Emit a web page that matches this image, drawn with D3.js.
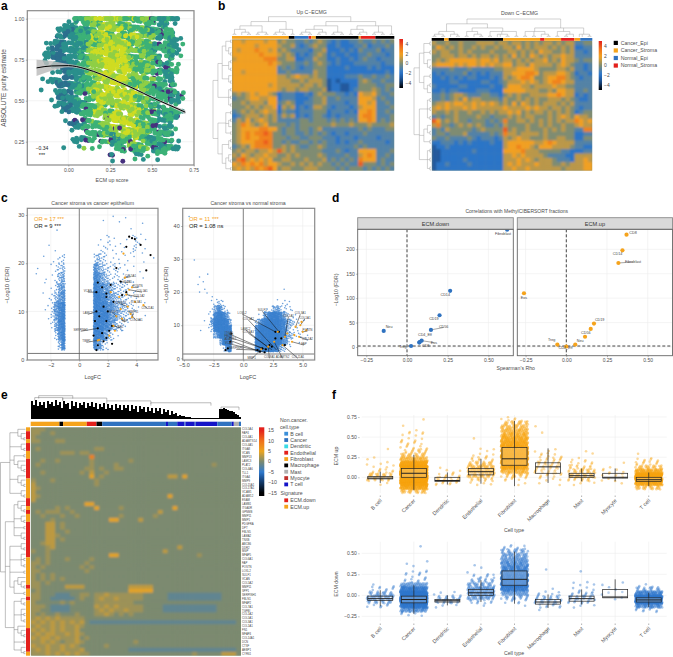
<!DOCTYPE html>
<html><head><meta charset="utf-8">
<script src="https://cdnjs.cloudflare.com/ajax/libs/d3/7.8.5/d3.min.js"></script>
<style>html,body{margin:0;background:#fff}svg{display:block}text{font-family:"Liberation Sans",Arial,sans-serif}</style>
</head><body><svg id="c" width="673" height="657"></svg>
<script>
const aRows=[
"......tgglyylylgyglpgtgtt.","....tttgglglylglgglgptgt..","...ttbtgtglyglygylgtgpgt..","..ttbttgggylyllyglgltpgtt.",
"..tbtttgtlglylylglggpggtg.",".ttbbtttglyyylylgglgtpgtg.",".t.tbttggllyylyyglglgpgt..","..ttbbttglllyylylgglgtpgg.",
".tt.tbttgllyylyyllglgptg..","..ttbbttgglylyylgglgpgtp..",".t.ttbtgglylylylyglgtgpgg.","...tbttgpglylyylyglggpgtp.",
"...ttbttgglyllyylglgtgptg.","....tbttpgylgylylyglgpggt.","....t.tpgglplyylylggptgtp.",".....tbtgpgllylyyglgptgt..",
"......t.pggglplylylgpgtg..","......ttpgpgltlgylgtgpgt..",".....t..lg.gptgplglgptgtt.",".......t..g.tpgpgtgptgt...","............t..p.gt.t....."];
const aClassColors={t:"#2a8f8c",b:"#2c6f8e",g:"#3cb177",l:"#8fcf45",y:"#cfdc22",p:"#46307e"};
const aFitX=[-0.19,-0.1,0,0.05,0.1,0.2,0.3,0.4,0.5,0.6,0.7];
const aFitY=[0.70,0.712,0.714,0.708,0.695,0.66,0.615,0.57,0.52,0.475,0.43];
const aFitSE=[0.05,0.03,0.01,0.008,0.007,0.006,0.006,0.006,0.007,0.008,0.012];
// ---------- Panel b ----------
const bUp=[
"7767777677565544545654343344"+"54454545","7777767777655643456553343334"+"45344454","7677787767565444435563334343"+"54445344",
"7777778777656534345653433433"+"44544434","6777777888556633446553343343"+"45443444","7777777787655544545654343334"+"44444344",
"7777777777454543445553333433"+"33434333","7767777777445444446553333333"+"33333343","7777777777665676656553333444"+"54454454",
"7777777777666556566652323333"+"56544544","7777777767666665665652332233"+"55554455","7777777777656656655562332234"+"55565454",
"5656767765344433435655544343"+"76675445","4556776677344433345564454444"+"77764544","5565666577456533445564444344"+"77674454",
"5556565667365634346654344434"+"67774445","4565656766354434445553444343"+"77874454","3456665656465634345543434444"+"78874445",
"4657567656444445545554545454"+"77874545","5687656755554545555555655565"+"55655556","5677778877545545545644444444"+"54544455",
"5678788985545544545454344344"+"45444444","5678778885554554455544434443"+"44443444","5677788985545445545454434344"+"54444434",
"4565788885565654455654444445"+"45444444","5656656676965655555544454344"+"77774445","6576566766556565555654444544"+"67874454",
"5896767675566555655564545454"+"87774544","7687878677655656565655454544"+"95554545","6767687897566555666555545455"+"54545454"];
const bDown=[
"6556556555666656"+"65665656566565664455","5765656556565565"+"66575656665656563344","6566556565555655"+"56656565766556564434",
"5566656656566565"+"65756576565667664444","5656777777677675"+"66565656675657665455","6777767677676766"+"77566576666567654434",
"4444544454444455"+"66677776555566564434","3434444534343444"+"66777887566677653443","3343434344333434"+"65678875567788654344",
"3333443333344334"+"56667676567887664444","4333334433333433"+"57776656666766554444","3343443333444333"+"77777666556577664454",
"4454566544455443"+"56565566667787663434","4454565756655554"+"65565656556665654334","5667677667676765"+"65757656566656564444",
"6767666767666666"+"76666767665665654344","6556565565565656"+"67675656656565653455","4545565555655455"+"56565665556567657665",
"9756565545554545"+"85566565656565668767","6855456565654454"+"65555655656556556766","4546555554565555"+"95655655565656554488",
"4554555644444545"+"86656666565555553344","5445444454344434"+"65676655565566553355","3344434343333433"+"67777776678766664444",
"2334333333333333"+"67787765777666654433","2233333334333333"+"77778666555554433344","2233333333333333"+"66767666654444336666",
"2233333433333333"+"66676765666544436676","2334333343333333"+"67676667666556566677","2333333333333333"+"66766766666665666677"];
const bUpAnno=[["Cancer_Stroma",12.6],["Cancer_Epi",1.3],["Normal_Epi",3.1],["Normal_Stroma",0.6],["Cancer_Stroma",1],["Cancer_Epi",9.5],["Cancer_Stroma",0.45],["Normal_Stroma",3.25],["Cancer_Epi",4.2]];
const bDownAnno=[["Cancer_Epi",2.8],["Cancer_Stroma",1],["Cancer_Epi",12.2],["Cancer_Stroma",8.3],["Normal_Stroma",1],["Cancer_Stroma",3.7],["Normal_Stroma",3],["Cancer_Stroma",1.3],["Normal_Epi",2.7]];
const bLegend=["Cancer_Epi","Cancer_Stroma","Normal_Epi","Normal_Stroma"];
const bLegendColors=["#000000","#f5a31c","#2f72c0","#e3201c"];
const dUpTop="(((((..)(.(..)))((..)(..)))(((..)(..))(..)))(((((..)(..))((..).))((..)(..)))(((..)((..).))((..)(..))(..)))";
const dDownTop="(((((..)(..))(.(..)))(((..)(.(..)))((..)(..(..))(..))))(((..)(..)(.(..)))((..)((..).))(..(..))))";
const dUpLeft="(((((..)(.(..)))((..)(..))(.(..)))((..)(..)(..)))(((..)((..).)(..))(((..)(..))((.(..))(..)))))";
const dDownLeft="((((..)(..)(.(..)))((..)((..).)))(((..)(..)(..))((.(..))(..))((..)(..)(..))))";
// ---------- Panel c: clouds as binned counts (rows 2 FDR units, columns 0.25 logFC) ----------
const cLeftNegStart=-3.25, cLeftPosStart=1, cLeftTop=30;
const cLeftNeg=[".........","......1..",".........","....1.1..","...1.1.23",".1...1234","1..1.1245","...1.1356","..1.12467","...113689","....13689",".....2589","......379",".......48"];
const cLeftPos=["..1..1.1.1...1...","..........1..1...","..1121.1.1.22.1..",".12211111.13.11..","3432111111.1..1.1","7543222211.1.1...","8754322222.1.1...","9876543332111....","9987654332211....","9998765443221.1..","9999765433211.1..","9998754321.......","9986421..........","86421............"];
const cRightNegStart=-4.75, cRightPosStart=1, cRightTop=44;
const cRightNeg=["1..............",".","." ,".",".",".",".","..1............",".","....1..1.......","...1.1.........","....1.1........","......1.1......","........11321..",".......1146531.",".......12789752",".....1.15899984","....1..13899998",".........469999","...........4998","............268"];
const cRightPos=[".",".",".",".",".",".",".",".",".",".",".",".........1........",".",".......1.121......","...1124532221.....",".1257898753111....","357899998754321.1.","6899999987532121.1","789999998754321211","8999999986521.1..1","789999974311......"];
const cLeftBlackX=[3.5,3.9,3.7,3.3,4.3,5,4.7,2.6,1.3,1.6,2.2,1.9,1.2,1.9,3,3.3,2.9,2.4,1.7,2,1.2,1.4,1.1,1.9,2.3,1.3,1.6,1.9,1,1.3,1.2,2.3,1.7,2.1];
const cLeftBlackY=[25.5,25,25.2,23.4,23.8,21.7,18.5,19,16,15,15.5,13.7,14,13,13.4,14,16.2,12,11,10,10,9,8,8,7,6.5,5.5,4.5,5,3,2,3.3,3.8,6];
const cLeftOrangeX=[3.2,3.7,3.5,3.3,3.9,4.5,3.4,2.6,3.6,3.7,3.1,2.2,2.4,2.5,1.4,1.3,2.8,2.9,3,2.1];
const cLeftOrangeY=[17,15,14.5,13.5,12,11.3,11,9,9.5,8.8,22,14,7,6,4.1,4,13,10.5,8.5,5];
const cLeftLabels=[["COL5A1",3.6,17.2,3.2,17],["POSTN",4.1,15,3.7,15],["COL1A1",4.4,14,3.5,14.5],["COL1A2",4.2,13,3.3,13.5],["COL3A1",4.0,11.8,3.9,12],["COL11A1",4.8,10.6,4.5,11.3],["CTHRC1",2.9,11.6,3.4,11],["COL10A1",4.0,8.1,3.6,9.5],["MMP11",3.8,9.6,3.7,8.8],["FAP",3.2,7.8,2.9,8.5],["SULF1",2.4,9.6,2.6,9],["VCAN",0.6,14,1.2,14],["LAMC2",0.6,9.4,1.2,10],["SERPINH1",0.1,5.9,1.3,6.5],["TIMP1",0.5,3.6,1.3,4],["FN1",2.9,6.6,2.4,7],["ITGA5",3.4,16,2.9,16.2]];
const cRightBlackX=[-1,-1.1,-1.3,-1.5,1.6,1.9,2.2,2.7,3,3.2,2.4,1.4,3.5,2.7,1.2,1.8];
const cRightBlackY=[7.5,5,3,2.5,3,2.7,4,8,8,6,3.5,2,4,6,2.5,1.8];
const cRightOrangeX=[4.4,4.8,5,4.3,4.7,5.3,4.1,3.5,3.7,2.9,2.1,1.5,2.6,4.9,3.3];
const cRightOrangeY=[9.5,10,8,7,6.5,8.5,5,6.5,7.5,8,3.5,2.7,5,11,4];
const cRightLabels=[["COL5A2",0.42,11.6,2.8,2.5],["LAMC2",0.2,8.6,2.2,3],["COL6A3",0.42,7.6,2.4,2.6],["ITGA5",-1.2,7.4,1.6,3],["FBLN1",-1.2,6.4,1.9,2.7],["ADAM12",-1.1,5.4,1.4,2],["VCAN",-1.2,4.4,1.8,1.8],["SERPINH1",-0.6,2.7,1.2,2.5],["MMP1",0.7,-0.2,1.5,2.7],["COL8A1",2.2,0,2.1,3.5],["ADAMTS2",3.3,0,2.6,5],["COL11A1",4.6,0,3.3,4],["COL1A1",3.8,12.6,3.5,6.5],["COL3A1",4.8,13.3,4.4,9.5],["COL5A1",5.2,12,4.8,10],["POSTN",5.4,8.2,5,8],["COL1A2",5.4,5.5,4.7,6.5],["FAP",5.1,4,4.1,5],["SULF1",1.6,14.2,3,8],["LOXL2",-0.1,13.4,2.7,8]];
// ---------- Panel d ----------
const dDownNames=["Fibroblast","CD14","CD19","CD56","CD4_Eff","Eos","CD8","Neu","Treg"];
const dDownRho=[0.615,0.265,0.2,0.147,0.078,0.09,0.075,-0.143,0.025];
const dDownFdr=[240,115,65,35,10,13,9,33,2];
const dDownLab=[[0.59,231],[0.235,106],[0.165,57],[0.225,40],[0.11,25],[0.165,9],[0.115,3],[-0.11,41],[-0.025,-1]];
const dUpNames=["CD8","CD14","Fibroblast","Eos","CD19","CD4","CD56","Neu","Treg","CD4_Eff"];
const dUpRho=[0.37,0.345,0.32,-0.26,0.17,0.15,0.115,0.055,-0.055,0];
const dUpFdr=[230,198,172,110,48,37,21,5,5,1];
const dUpLab=[[0.41,233],[0.315,190],[0.41,174],[-0.26,100],[0.205,56],[null,null],[0.12,29],[0.085,13],[-0.09,14],[-0.005,-2]];
// ---------- Panel e ----------
const eGenes=["COL5A4","FAP4","COL4A1","ADAMTS14","COL4A5","ITGA8","VCAN","MMP13","LAMC3","PLAT2","COL4A6","TLL1","ITGA4","MMP9","COL15A1","COL17A1","VCAM1","ADAM12","ESAM","LAMB1","ITGA5R","GPNMB","MMP11","MMP1","PDGFRA","DPT","FBLN5","LAMA2","TNXB","ABCB6","DDR2","MGP","MFAP5","COL6A1","FAP","POSTN","LOXL2","SULF1","VCAN","COL5A2","MMP11","SPP1","SERPINH1","FBLN1","MFAP2","COL7A1","TGFBI","COL1A2","COL5A1","COL3A1","COL1A1","FN1","MFAP4","COL14A1","DCN","CTSF","AEBP1","CYR61"];
const eSignatureRuns=[["ECM.up",1],["ECM.down",2],["ECM.up",1],["ECM.down",2],["ECM.up",2],["ECM.down",5],["ECM.up",5],["ECM.down",2],["ECM.up",1],["ECM.down",1],["ECM.up",2],["ECM.down",9],["ECM.up",7],["ECM.down",1],["ECM.up",2],["ECM.down",1],["ECM.up",7],["ECM.down",6],["ECM.up",1]];
const eCellRuns=[["Fibroblast",5.6],["Macrophage",0.7],["Fibroblast",4.6],["Endothelial",1.9],["Macrophage",1.1],["Cancer",12.4],["T cell",0.4],["Cancer",1.8],["T cell",1.4],["Cancer",0.2],["T cell",1.8],["Cancer",0.2],["T cell",4.2],["Cancer",2.8],["T cell",0.4],["Mast",1.0],["Cancer",.4]];
const eMatrix=[
"666.......................................",
"66..6.....................................",
"6.........................................",
"66...66...................................",
"..........................................",
".6...........66...........................",
"......666.66..............................",
"............r.............................",
"..6..6......6.......6.....................",
".6..........6....6...................6.....",
"...........66.6..66.......................",
"..6.......6.7..6...........................",
"............8.6.............77.8..........",
"6...6........6...........................",
"7............6...........................",
"76........................................",
"7.........................................",
"76..........................8.............",
"7.........................................",
"...........88.............................",
".....6.6.....8....6..........8............",
".6.666..6.................7................",
"..6...6..6........6......6................",
"....6...........88....7...................",
"...77.6...................................",
"...77.6...................................",
"...77..6..................................",
"...776....................................",
"...77.6...................................",
"..677.....................................",
"...67.........................7...........",
"6..6.......................7...............",
"...6............88................6........",
".6.6...6....6.............................",
"66.6.......6..............................",
"6.6.......6.6.............................",
"66.........6..............................",
"6.6.6.....................................",
"6.6.6.6...................................",
"66.6......................................",
"66.....7777.........77777.................",
".6..................88888.................",
"66...444..66.6676666666.....44444444444...",
"66..44444.6..6766766666.....44444444444...",
"6.....6.6....66666666.....................",
"666.4444.....7676766666....44444444444....",
"66..4444.....6767667666....44444444444....",
"6.6..6...6...6676.6.6.....................",
"67676766666...............................",
"76767676767.444444444444444444444444444444",
"67667676676...............................",
"7676767667................................",
"67677667676...............................",
"7677676667.6..............................",
"667676.6676..........6....................",
"7667667676.....6..........................",
"67676676667.........4444444444444444444444",
"666767676766.....................6.....777"];
const eDendroBars=[.76,.6,.8,.55,.72,.62,.74,.5,.78,.66,.74,.56,.8,.6,.72,.5,.76,.64,.7,.45,.76,.58,.72,.5,.68,.6,.74,.48,.7,.56,.72,.52,.68,.42,.66,.54,.7,.44,.66,.5,.62,.4,.66,.5,.6,.38,.62,.5,.6,.36,.6,.44,.58,.32,.58,.42,.54,.3,.54,.36,.5,.26,.5,.34,.46,.22,.44,.3,.4,.18,.34,.22,.28,.12,.2,.12,.14,.1,.08,.08,.06,.06,.05,.05,.05,.05,.05,.05,.05,.05,.05,.05,.05,.05,.45,.42,.46,.42,.4,.36,.34,.3,.24,.18,.08];
const eDendroTopLinks=[[4,21,1],[2,16,.92],[16,38,.9],[38,60,.78],[60,90,.7],[95,104,.52]];
const dEleft="(((.(.(..)))(.(..))((..)(.(.(..))))(.(.(..)))(.(..)))(((.(.(..)))(.(..))(..)(.(..)))((.(..))(.(..)(..))(..)((.(.(..)))(..)))((.(..))(.(..)(..))(.(.(..)))(..)(.(..))))";
const eCellLegend=["B cell","Cancer","Dendritic","Endothelial","Fibroblast","Macrophage","Mast","Myocyte","T cell"];
const eCellColors=["#3a8fd9","#2f72c0","#38dbe6","#e3201c","#f5a31c","#000000","#b0b0b0","#c0302c","#1414c8"];
// ---------- Panel f ----------
const fCats=["B cell","Cancer","Dendritic","Endothelial","Fibroblast","Macrophage","Mast","Myocyte","T cell"];
const fUpQ1=[-0.02,0,-0.05,0.03,0.15,0.05,0,-0.01,-0.05];
const fUpMed=[-0.01,0.05,-0.04,0.07,0.23,0.13,0.02,0,-0.03];
const fUpQ3=[0.01,0.11,0,0.11,0.37,0.18,0.05,0.05,0];
const fUpLo=[-0.07,-0.16,-0.09,-0.08,-0.11,-0.07,-0.05,-0.05,-0.11];
const fUpHi=[0.07,0.28,0.06,0.23,0.7,0.36,0.11,0.11,0.06];
const fUpBinStart=-0.2;
const fUpCounts=[
[0,0,2,16,22,8,4,3,2,0,0,1],
[30,120,240,400,400,380,320,150,60,26,14,8,7,4,4,3,1,0,1],
[0,0,8,14,8,3,1],
[0,0,4,14,34,50,40,22,10,4,2,1,0,1],
[0,0,2,6,20,60,120,170,200,200,160,130,110,90,70,55,40,25,6],
[0,0,2,4,8,12,14,14,10,6,3,0,0,0,0,1,1],
[0,0,3,14,30,24,12,6,3,1,1],
[0,0,1,3,6,4,2,1],
[0,30,130,260,280,90,30,10,6,1]];
const fDownQ1=[-0.06,-0.09,-0.08,0,0.12,-0.105,-0.07,-0.03,-0.08];
const fDownMed=[-0.04,-0.05,-0.065,0.03,0.19,-0.08,-0.04,-0.02,-0.055];
const fDownQ3=[-0.01,-0.01,-0.05,0.07,0.29,-0.05,-0.01,0.07,-0.03];
const fDownLo=[-0.13,-0.22,-0.12,-0.08,-0.1,-0.15,-0.11,-0.03,-0.14];
const fDownHi=[0.06,0.12,0,0.18,0.52,0.01,0.07,0.19,0.03];
const fDownBinStart=-0.3;
const fDownCounts=[
[0,0,0,6,24,40,22,8,2],
[0,5,60,180,300,400,240,120,50,8,4,6,1,1,1,0,0,1],
[0,0,0,3,18,16,3],
[0,0,0,1,10,40,70,60,30,16,8,2,1,1],
[0,0,0,1,6,20,50,110,170,170,130,100,80,65,50,40,25,8],
[0,0,1,8,20,16,6,1,0,0,0,0,1],
[0,0,0,3,12,20,10,4,3,1,0,1],
[0,0,0,0,0,2,3,2,1,1],
[0,0,8,70,200,250,90,20,3]];

// ================= drawing =================
const svg=d3.select("#c");
const TXT="#4d4d4d", GRID="#ececec", FRAME="#8a8a8a";
const ORANGE="#f5a31c", BLUE="#2f72c0";
const frac=v=>v-Math.floor(v);           // low-discrepancy placement inside a bin
const spreadA=i=>frac(i*0.75487767)-.5, spreadB=i=>frac(i*0.56984029)-.5;
const defs=svg.append("defs");
defs.append("filter").attr("id","soft").attr("x","-2%").attr("y","-2%").attr("width","104%").attr("height","104%").append("feGaussianBlur").attr("stdDeviation",.85);
function label(t,x,y,o={}){return svg.append("text").attr("x",x).attr("y",y).attr("font-size",o.s||5.5)
  .attr("fill",o.c||TXT).attr("text-anchor",o.a||"middle").attr("font-weight",o.w||null)
  .attr("transform",o.r!=null?`rotate(${o.r},${x},${y})`:null).text(t);}
[["a",1,10],["b",218,10],["c",1,202],["d",332,202],["e",1,399],["f",332,399]].forEach(d=>label(d[0],d[1],d[2],{s:12,w:"bold",c:"#000",a:"start"}));
function axis(scale,orient,at,vals,fmt,o={}){
  const a=(orient=="b"?d3.axisBottom(scale):d3.axisLeft(scale)).tickValues(vals).tickSize(o.tick==null?1.5:o.tick).tickPadding(o.pad||1.5);
  if(fmt)a.tickFormat(fmt);
  const g=svg.append("g").attr("transform",orient=="b"?`translate(0,${at})`:`translate(${at},0)`).call(a);
  g.select(".domain").remove();
  g.selectAll("text").attr("font-size",o.s||5.5).attr("fill",TXT).attr("font-family",'"Liberation Sans",Arial,sans-serif');
  g.selectAll("line").attr("stroke","#666").attr("stroke-width",.5);
  return g;
}
function grid(xs,ys,x,y,x0,x1,y0,y1){
  xs.forEach(v=>svg.append("line").attr("x1",x(v)).attr("x2",x(v)).attr("y1",y0).attr("y2",y1).attr("stroke",GRID).attr("stroke-width",.6));
  ys.forEach(v=>svg.append("line").attr("y1",y(v)).attr("y2",y(v)).attr("x1",x0).attr("x2",x1).attr("stroke",GRID).attr("stroke-width",.6));
}
function frame(x0,y0,x1,y1,w,c){svg.append("rect").attr("x",x0).attr("y",y0).attr("width",x1-x0).attr("height",y1-y0).attr("fill","none").attr("stroke",c||FRAME).attr("stroke-width",w||1.2);}
function parseTree(s){const root={children:[]};let st=[root];for(const ch of s){if(ch=="("){const n={children:[]};st[st.length-1].children.push(n);st.push(n);}else if(ch==")"){if(st.length>1)st.pop();}else if(ch=="."){st[st.length-1].children.push({});}}return root.children[0]||root;}
function dendro(str,horizontal,x0,x1,y0,y1,stroke,pow){
  const root=d3.hierarchy(parseTree(str),d=>d.children);
  d3.cluster().size([1,1])(root);
  const H=root.height;
  const along=d3.scaleLinear().domain(d3.extent(root.leaves(),d=>d.x)).range(horizontal?[y0,y1]:[x0,x1]);
  const depth=d3.scaleLinear().domain([0,1]).range(horizontal?[x1,x0]:[y1,y0]);
  const hh=n=>depth(Math.pow(n.height/H,pow||1.7));
  const p=d3.path();
  root.descendants().forEach(n=>{if(!n.children)return;
    const a=along(n.children[0].x),b=along(n.children[n.children.length-1].x),h=hh(n);
    if(horizontal){p.moveTo(h,a);p.lineTo(h,b);n.children.forEach(c=>{p.moveTo(h,along(c.x));p.lineTo(hh(c),along(c.x));});}
    else{p.moveTo(a,h);p.lineTo(b,h);n.children.forEach(c=>{p.moveTo(along(c.x),h);p.lineTo(along(c.x),hh(c));});}
  });
  svg.append("path").attr("d",p.toString()).attr("fill","none").attr("stroke",stroke||"#9a9a9a").attr("stroke-width",.45);
}
// --- a ---
(function(){
  const x=d3.scaleLinear().domain([0,.75]).range([68.3,193.7]), y=d3.scaleLinear().domain([.25,1]).range([141.7,18.7]);
  const xt=[0,.25,.5,.75], yt=[.25,.5,.75,1];
  grid(xt,yt,x,y,27.3,194,10.7,165);
  const pts=[];
  aRows.forEach((r,ri)=>[...r].forEach((ch,ci)=>{ if(!aClassColors[ch])return;
    const crowded=r[ci-1]&&r[ci-1]!="."&&r[ci+1]&&r[ci+1]!=".";
    const n=crowded?(ch=="p"?2:7):1;
    for(let k=0;k<n;k++)pts.push({ri,ci,ch,ord:frac((pts.length+1)*0.61803)});
  }));
  pts.sort((a,b)=>a.ord-b.ord);
  svg.append("g").selectAll("circle").data(pts).join("circle")
    .attr("cx",(d,i)=>x(-0.2+0.0354*(d.ci+.5))+spreadA(i+1)*10)
    .attr("cy",(d,i)=>d.ri?y(1-0.0425*d.ri)+spreadB(i+1)*10:y(1))
    .attr("r",2.45).attr("fill",d=>aClassColors[d.ch]);
  const idx=aFitX.map((_,i)=>i);
  svg.append("path").attr("fill","#bdbdbd").attr("opacity",.85).attr("d",d3.area().x(i=>x(aFitX[i])).y0(i=>y(aFitY[i]-aFitSE[i])).y1(i=>y(aFitY[i]+aFitSE[i])).curve(d3.curveMonotoneX)(idx));
  svg.append("path").attr("fill","none").attr("stroke","#000").attr("stroke-width",1).attr("d",d3.line().x(i=>x(aFitX[i])).y(i=>y(aFitY[i])).curve(d3.curveMonotoneX)(idx));
  frame(27.3,10.7,194,165);
  axis(x,"b",165,xt,d3.format(".2f"),{s:5});
  axis(y,"l",27.3,yt,d3.format(".2f"),{s:5});
  label("ABSOLUTE purity estimate",6,88,{s:6.4,r:-90});
  label("ECM up score",112,182,{s:5.2});
  label("−0.34",42,150,{s:5,c:"#222"});
  label("***",42,157,{s:5.5,c:"#222"});
})();
// --- b ---
const heatB=d3.scaleLinear().domain([-5,-3.2,-1.7,0,1.8,3.4,5]).range(["#000000","#1b4f8f","#2f7ad0","#7f8c72","#f2a322","#f0701c","#e3201c"]).clamp(true);
const bVal=ch=>(+ch-5)*.95;
function heat(rows,x0,x1,y0,y1,color,val,blur){
  const n=d3.max(rows,r=>r.length);
  const xs=d3.scaleBand().domain(d3.range(n)).range([x0,x1]), ys=d3.scaleBand().domain(d3.range(rows.length)).range([y0,y1]);
  const cells=[];rows.forEach((r,ri)=>{for(let ci=0;ci<n;ci++)cells.push({ri,ci,ch:r[ci]||"."});});
  const cid="clip"+Math.round(x0)+Math.round(y0);
  defs.append("clipPath").attr("id",cid).append("rect").attr("x",x0).attr("y",y0).attr("width",x1-x0).attr("height",y1-y0);
  const wrap=svg.append("g").attr("clip-path",`url(#${cid})`);
  wrap.append("rect").attr("x",x0).attr("y",y0).attr("width",x1-x0).attr("height",y1-y0).attr("fill",color(0));
  wrap.append("g").attr("filter",blur?"url(#soft)":null).selectAll("rect").data(cells).join("rect")
    .attr("x",d=>xs(d.ci)).attr("y",d=>ys(d.ri)).attr("width",xs.bandwidth()+.4).attr("height",ys.bandwidth()+.4)
    .attr("fill",d=>color(val(d.ch)));
}
function anno(runs,x0,x1,y0,y1,colors,vertical){
  const tot=d3.sum(runs,d=>d[1]); let acc=0;
  const s=d3.scaleLinear().domain([0,tot]).range(vertical?[y0,y1]:[x0,x1]);
  runs.forEach(d=>{const a=s(acc),b=s(acc+d[1]);acc+=d[1];
    svg.append("rect").attr("x",vertical?x0:a).attr("y",vertical?a:y0).attr("width",vertical?x1-x0:b-a).attr("height",vertical?b-a:y1-y0).attr("fill",colors(d[0]));});
}
const bC=d3.scaleOrdinal(bLegend,bLegendColors);
heat(bUp,232,394.3,39.3,170.7,heatB,bVal,true);
heat(bDown,431.7,592.3,41,170.7,heatB,bVal,true);
anno(bUpAnno,232,394.3,36,38.8,bC);
anno(bDownAnno,431.7,592.3,38,40.8,bC);
dendro(dUpTop,false,233,393,16.7,35);
dendro(dDownTop,false,433,591,19,37);
dendro(dUpLeft,true,213,231.5,40,170);
dendro(dDownLeft,true,414,431,42,170);
label("Up C−ECMG",311.7,14,{s:5.2});
label("Down C−ECMG",519.5,14.5,{s:5.2});
function colorbar(x0,x1,y0,y1,s,stops,vals,xl,fmt,o={}){
  const id="g"+Math.round(x0);
  const g=defs.append("linearGradient").attr("id",id).attr("x1",0).attr("x2",0).attr("y1",1).attr("y2",0);
  d3.range(21).forEach(i=>{const v=stops[0]+(stops[1]-stops[0])*i/20;g.append("stop").attr("offset",i/20).attr("stop-color",s(v));});
  svg.append("rect").attr("x",x0).attr("y",y0).attr("width",x1-x0).attr("height",y1-y0).attr("fill",`url(#${id})`);
  const sc=d3.scaleLinear().domain(stops).range([y1,y0]);
  vals.forEach(v=>label(fmt(v),xl,sc(v)+1.8,{s:o.s||5,a:"start"}));
}
const f0=d3.format("d");
colorbar(399.3,403,39,88,heatB,[-5,5],[4,2,0,-2,-4],405.5,d=>f0(d).replace("-","−"));
colorbar(598.7,602,41,90,heatB,[-5,5],[4,2,0,-2,-4],604,d=>f0(d).replace("-","−"));
bLegend.forEach((d,i)=>{const y=40.8+7.55*i;
  svg.append("rect").attr("x",613.7).attr("y",y).attr("width",4.2).attr("height",4.2).attr("fill",bLegendColors[i]);
  label(d,620.7,y+4,{s:5.2,a:"start"});});
// --- c ---
function cloud(rows,x,y,start,top,perDigit,r){
  const pts=[];
  rows.forEach((row,ri)=>[...row].forEach((ch,ci)=>{const d=+ch||0;const n=d?Math.max(1,Math.round(d*d*perDigit)):0;
    for(let k=0;k<n;k++){const i=pts.length+1;pts.push({lx:start+.25*(ci+frac(i*0.75487767)),ly:top-2*(ri+frac(i*0.56984029))});}}));
  svg.append("g").selectAll("circle").data(pts).join("circle").attr("cx",d=>x(d.lx)).attr("cy",d=>y(d.ly)).attr("r",r).attr("fill","#3a80cf").attr("opacity",.75);
}
function volcano(o){
  const {x,y,x0,x1,y0,y1}=o;
  grid(o.xt,o.yt,x,y,x0,x1,y0,y1);
  cloud(o.neg,x,y,o.negStart,o.top,o.k,o.r);
  cloud(o.pos,x,y,o.posStart,o.top,o.k,o.r);
  o.labels.forEach(d=>{svg.append("line").attr("x1",x(d[1])).attr("y1",y(d[2])).attr("x2",x(d[3])).attr("y2",y(d[4])).attr("stroke","#111").attr("stroke-width",.5);});
  o.blackX.forEach((v,i)=>svg.append("circle").attr("cx",x(v)).attr("cy",y(o.blackY[i])).attr("r",1.1).attr("fill","#000"));
  o.orangeX.forEach((v,i)=>svg.append("circle").attr("cx",x(v)).attr("cy",y(o.orangeY[i])).attr("r",1.1).attr("fill",ORANGE));
  o.labels.forEach(d=>label(d[0],x(d[1]),y(d[2]),{s:2.9,c:"#444"}));
  svg.append("line").attr("x1",x(0)).attr("x2",x(0)).attr("y1",y0).attr("y2",y1).attr("stroke","#666").attr("stroke-width",.8);
  svg.append("line").attr("x1",x0).attr("x2",x1).attr("y1",y(1.3)).attr("y2",y(1.3)).attr("stroke","#555").attr("stroke-width",.8);
  frame(x0,y0,x1,y1);
  axis(x,"b",y1,o.xt,o.xf,{s:5.5}); axis(y,"l",x0,o.yt,d3.format("d"),{s:5.5});
}
volcano({x:d3.scaleLinear().domain([0,4]).range([79.3,136.3]),y:d3.scaleLinear().domain([0,30]).range([359.7,215]),x0:27.3,x1:158,y0:208.3,y1:360,
  xt:[-2,0,2,4],yt:[0,10,20,30],xf:d3.format("d"),neg:cLeftNeg,pos:cLeftPos,negStart:cLeftNegStart,posStart:cLeftPosStart,top:cLeftTop,k:.7,r:.8,
  blackX:cLeftBlackX,blackY:cLeftBlackY,orangeX:cLeftOrangeX,orangeY:cLeftOrangeY,labels:cLeftLabels});
volcano({x:d3.scaleLinear().domain([0,5]).range([243.3,302.7]),y:d3.scaleLinear().domain([0,40]).range([358.3,226]),x0:182.7,x1:314.7,y0:208.3,y1:360,
  xt:[-5,-2.5,0,2.5,5],yt:[0,10,20,30,40],xf:d3.format(".1f"),neg:cRightNeg,pos:cRightPos,negStart:cRightNegStart,posStart:cRightPosStart,top:cRightTop,k:.6,r:.8,
  blackX:cRightBlackX,blackY:cRightBlackY,orangeX:cRightOrangeX,orangeY:cRightOrangeY,labels:cRightLabels});
label("Cancer stroma vs cancer epithelium",92.7,205,{s:5.2});
label("Cancer stroma vs normal stroma",248,205,{s:5.2});
label("−Log10 (FDR)",9,285,{s:5.8,r:-90}); label("−Log10 (FDR)",167.7,285,{s:5.8,r:-90});
label("LogFC",92.7,379,{s:5.5}); label("LogFC",248,379,{s:5.5});
label("OR = 17 ***",34,221,{s:5.8,a:"start",c:ORANGE}); label("OR = 9 ***",34,227.8,{s:5.8,a:"start",c:"#222"});
label("OR = 11 ***",189,221,{s:5.8,a:"start",c:ORANGE}); label("OR = 1.08 ns",189,227.8,{s:5.8,a:"start",c:"#222"});
// --- d ---
(function(){
  const y=d3.scaleLinear().domain([0,200]).range([347,249.3]);
  const yt=[0,50,100,150,200];
  function facet(x0,x1,zero,title,color,names,rho,fdr,lab){
    const x=d3.scaleLinear().domain([0,.25]).range([zero,zero+40.7]);
    const xt=[-.25,0,.25,.5];
    const y0=229.3,y1=355.7;
    grid(xt,yt,x,y,x0,x1,y0,y1);
    [[x(0),x(0),y0,y1],[x0,x1,y(2),y(2)]].forEach(l=>svg.append("line").attr("x1",l[0]).attr("x2",l[1]).attr("y1",l[2]).attr("y2",l[3]).attr("stroke","#444").attr("stroke-width",1).attr("stroke-dasharray","3,2"));
    names.forEach((n,i)=>{
      if(lab[i][0]!=null&&Math.hypot(x(lab[i][0])-x(rho[i]),y(lab[i][1])-y(fdr[i]))>12)
        svg.append("line").attr("x1",x(rho[i])).attr("y1",y(fdr[i])).attr("x2",x(lab[i][0])).attr("y2",y(lab[i][1])).attr("stroke","#222").attr("stroke-width",.4);
    });
    svg.append("g").selectAll("circle").data(rho).join("circle").attr("cx",d=>x(d)).attr("cy",(d,i)=>y(fdr[i])).attr("r",2.1).attr("fill",color);
    names.forEach((n,i)=>{if(lab[i][0]!=null)label(n,x(lab[i][0]),y(lab[i][1])+1,{s:3.7,c:"#444"});});
    svg.append("rect").attr("x",x0).attr("y",217.7).attr("width",x1-x0).attr("height",y0-217.7).attr("fill","#d9d9d9").attr("stroke",FRAME).attr("stroke-width",.9);
    label(title,(x0+x1)/2,225.5,{s:5.6,c:"#333"});
    frame(x0,y0,x1,y1,.9,"#666");
    axis(x,"b",y1,xt,d3.format(".2f"),{s:5});
  }
  facet(357.7,513.3,407,"ECM.down",BLUE,dDownNames,dDownRho,dDownFdr,dDownLab);
  facet(517.3,672.5,566.3,"ECM.up",ORANGE,dUpNames,dUpRho,dUpFdr,dUpLab);
  axis(y,"l",357.7,yt,d3.format("d"),{s:5});
  label("Correlations with MethylCIBERSORT fractions",516.7,213,{s:5});
  label("−Log10 (FDR)",337.5,290,{s:5.2,r:-90});
  label("Spearman's Rho",515.7,370,{s:5.2});
})();
// --- e ---
(function(){
  const heatE=d3.scaleLinear().domain([-15,-8,-5,0,5,10,15]).range(["#000","#1b4f8f","#2f7ad0","#7b8a70","#eda51f","#f0701c","#e3201c"]).clamp(true);
  const map={".":0,"4":-1.7,"6":1.5,"7":2.9,"8":4.6,"r":8.5};
  const x0=30.7,x1=241,y0=427.3,y1=655.7;
  heat(eMatrix,x0,x1,y0,y1,heatE,c=>map[c]==null?0:map[c],true);
  const sigColor=d3.scaleOrdinal(["ECM.down","ECM.up"],["#e3201c",ORANGE]);
  anno(eSignatureRuns,26,30,y0,y1,sigColor,true);
  const cellC=d3.scaleOrdinal(eCellLegend,eCellColors);
  anno(eCellRuns,x0,x1,421.7,426,cellC);
  dendro(dEleft,true,0.5,25.5,y0+2,y1-2,"#707070",1.4);
  const dx=d3.scaleBand().domain(d3.range(eDendroBars.length)).range([x0,x1]);
  const dy=d3.scaleLinear().domain([0,1]).range([419.3,395.7]);
  svg.append("g").attr("shape-rendering","crispEdges").selectAll("rect").data(eDendroBars).join("rect")
    .attr("x",(d,i)=>dx(i)).attr("width",dx.bandwidth()+.2).attr("y",d=>dy(d)).attr("height",d=>dy(0)-dy(d)).attr("fill","#000");
  eDendroTopLinks.forEach(l=>{
    const p=d3.path();p.moveTo(dx(l[0]),dy(l[2]-.12));p.lineTo(dx(l[0]),dy(l[2]));p.lineTo(dx(l[1]),dy(l[2]));p.lineTo(dx(l[1]),dy(l[2]-.12));
    svg.append("path").attr("d",p.toString()).attr("fill","none").attr("stroke","#555").attr("stroke-width",.4);});
  const gy=d3.scaleBand().domain(d3.range(eGenes.length)).range([y0,y1]);
  eGenes.forEach((g,i)=>label(g,242,gy(i)+gy.bandwidth()/2+1.1,{s:2.8,a:"start",c:"#444"}));
  colorbar(259,264.3,427.3,496,heatE,[-16.4,16.4],[15,10,5,0,-5,-10,-15],268,d=>f0(d).replace("-","−"),{s:5.3});
  label("Non.cancer.",280,422,{s:5.2,a:"start"}); label("cell.type",280,428.5,{s:5.2,a:"start"});
  eCellLegend.forEach((d,i)=>{const y=433.7+6.34*i;
    svg.append("rect").attr("x",284.3).attr("y",y-1.9).attr("width",3.8).attr("height",3.8).attr("fill",eCellColors[i]);
    label(d,290.3,y+1.9,{s:5.2,a:"start"});});
  label("Signature",280.5,494.5,{s:5.2,a:"start"});
  ["ECM.down","ECM.up"].forEach((d,i)=>{const y=500.3+6.4*i;
    svg.append("rect").attr("x",284.3).attr("y",y-1.9).attr("width",3.8).attr("height",3.8).attr("fill",sigColor(d));
    label(d,290.3,y+1.9,{s:5.2,a:"start"});});
})();
// --- f ---
function boxes(o){
  const x=d3.scaleBand().domain(fCats).range([363.5,665.5]).padding(0);
  const {y}=o;
  grid(fCats.map(c=>c),o.yt,c=>x(c)+x.bandwidth()/2,y,361.7,666.7,o.top,o.bot);
  const w=27;
  fCats.forEach((c,i)=>{
    const cx=x(c)+x.bandwidth()/2;
    let idx=0;const pts=[];
    o.counts[i].forEach((n,b)=>{for(let k=0;k<n;k++){idx++;pts.push({vx:cx+w*spreadA(idx+i*7),vy:o.start+.05*(b+frac((idx+i*7)*0.56984029))});}});
    svg.append("g").selectAll("circle").data(pts).join("circle").attr("cx",d=>d.vx).attr("cy",d=>y(d.vy)).attr("r",1.3).attr("fill",o.color).attr("opacity",.42);
    svg.append("line").attr("x1",cx).attr("x2",cx).attr("y1",y(o.lo[i])).attr("y2",y(o.hi[i])).attr("stroke","#222").attr("stroke-width",.7);
    svg.append("rect").attr("x",cx-12.5).attr("width",25).attr("y",y(o.q3[i])).attr("height",y(o.q1[i])-y(o.q3[i])).attr("fill","#fff").attr("fill-opacity",.22).attr("stroke","#222").attr("stroke-width",.7);
    svg.append("line").attr("x1",cx-12.5).attr("x2",cx+12.5).attr("y1",y(o.med[i])).attr("y2",y(o.med[i])).attr("stroke","#222").attr("stroke-width",1);
    label(c,cx+2,o.bot+8,{s:5.3,a:"end",r:-45});
    svg.append("line").attr("x1",cx).attr("x2",cx).attr("y1",o.bot+2.5).attr("y2",o.bot+4).attr("stroke","#666").attr("stroke-width",.5);
  });
  axis(y,"l",359.5,o.yt,d3.format(".2f"),{s:5,tick:1.2,pad:1.5});
  label(o.yl,337.5,o.ylY,{s:5.2,r:-90});
  label("Cell type",514,o.xlY,{s:5.2});
}
boxes({y:d3.scaleLinear().domain([0,.75]).range([477.3,417]),yt:[0,.25,.5,.75],top:415,bot:493,counts:fUpCounts,start:fUpBinStart,color:"#f9a510",lo:fUpLo,hi:fUpHi,q1:fUpQ1,q3:fUpQ3,med:fUpMed,yl:"ECM up",ylY:456,xlY:532});
boxes({y:d3.scaleLinear().domain([0,.5]).range([595.3,553.3]),yt:[-.25,0,.25,.5],top:541.7,bot:621,counts:fDownCounts,start:fDownBinStart,color:"#2f78cc",lo:fDownLo,hi:fDownHi,q1:fDownQ1,q3:fDownQ3,med:fDownMed,yl:"ECM down",ylY:584,xlY:655});
</script></body></html>
